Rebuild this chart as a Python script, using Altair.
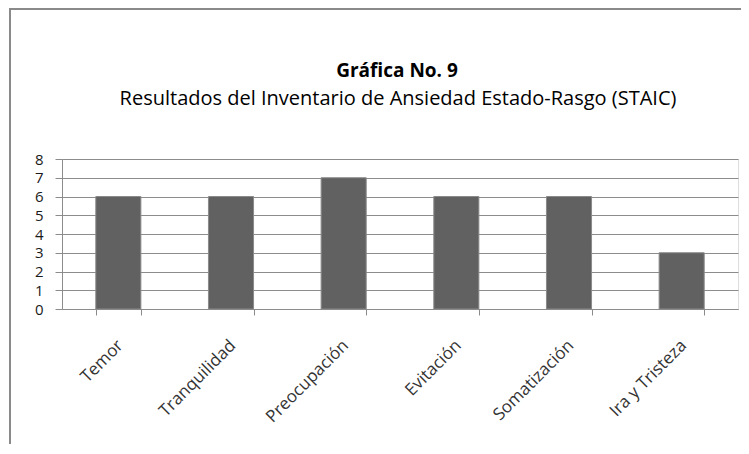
import altair as alt
import pandas as pd

categories = ["Temor", "Tranquilidad", "Preocupación", "Evitación", "Somatización", "Ira y Tristeza"]
values = [6, 6, 7, 6, 6, 3]
y_ticks = [0, 1, 2, 3, 4, 5, 6, 7, 8]
title_text = "Gráfica No. 9"
subtitle_text = "Resultados del Inventario de Ansiedad Estado-Rasgo (STAIC)"

df = pd.DataFrame({"cat": categories, "val": values})
tdf = pd.DataFrame({"t": [title_text]})
sdf = pd.DataFrame({"t": [subtitle_text]})

W, H = 676, 150
PAD = {"left": 54, "top": 151, "right": 3, "bottom": 135}
FONT = "Open Sans"

bars = alt.Chart(df).mark_bar(color="#616161", stroke="#8a8a8a", strokeWidth=1).encode(
    x=alt.X("cat:N", sort=categories, title=None,
            scale=alt.Scale(paddingInner=0.6, paddingOuter=0.3),
            axis=alt.Axis(labelAngle=-45, labelAlign="right", labelBaseline="top",
                          labelPadding=22, labelOffset=-4, tickBand="extent", tickSize=6,
                          domainColor="#8c8c8c", tickColor="#8c8c8c",
                          labelFont=FONT, labelFontSize=17, labelColor="#333333")),
    y=alt.Y("val:Q", title=None,
            scale=alt.Scale(domain=[0, 8], nice=False),
            axis=alt.Axis(values=y_ticks, grid=True, gridColor="#8c8c8c",
                          domainColor="#8c8c8c", tickColor="#8c8c8c", tickSize=7,
                          labelPadding=12, labelFont=FONT, labelFontSize=15,
                          labelColor="#1a1a1a")),
)

title_mark = alt.Chart(tdf).mark_text(font=FONT, fontSize=19, fontWeight="bold",
                                      color="#000000", baseline="alphabetic").encode(
    text="t:N", x=alt.value(W / 2 - 3), y=alt.value(-82))
subtitle_mark = alt.Chart(sdf).mark_text(font=FONT, fontSize=20,
                                         color="#000000", baseline="alphabetic").encode(
    text="t:N", x=alt.value(W / 2 - 2), y=alt.value(-54))

frame_left = alt.Chart(df).mark_rule(color="#8a8a8a", strokeWidth=1.5).encode(
    x=alt.value(-52), y=alt.value(-151), y2=alt.value(H + PAD["bottom"]))
frame_top = alt.Chart(df).mark_rule(color="#8a8a8a", strokeWidth=1.5).encode(
    x=alt.value(-52), x2=alt.value(W + PAD["right"]), y=alt.value(-150))

chart = alt.layer(frame_left, frame_top, title_mark, subtitle_mark, bars).properties(
    width=W, height=H,
    autosize=alt.AutoSizeParams(type="none"),
    padding=PAD,
).configure_view(stroke=None).configure(background="white")

chart.save("out.html", embed_options={"renderer": "svg", "actions": False})
